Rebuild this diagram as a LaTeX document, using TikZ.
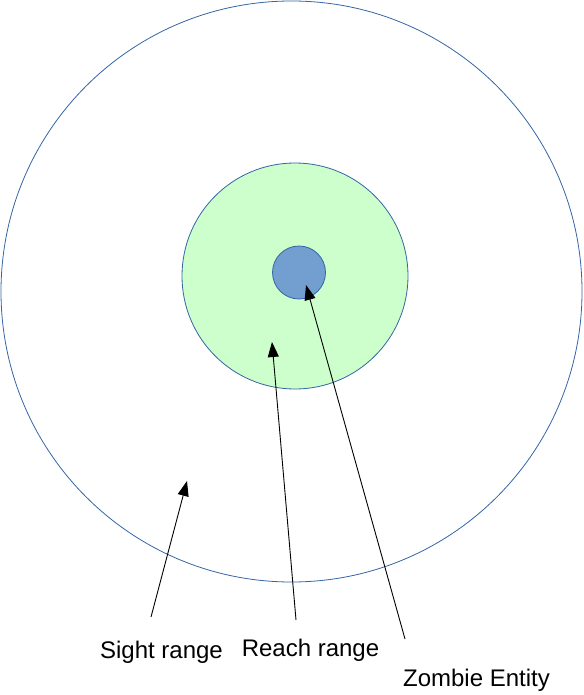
\documentclass[tikz,border=0pt]{standalone}
\usepackage{fontspec}
\setmainfont{Liberation Sans}
\usetikzlibrary{arrows.meta}
\definecolor{rimblue}{HTML}{3465A4}
\definecolor{reachgreen}{HTML}{CCFFCC}
\definecolor{zombieblue}{HTML}{729FCF}
\tikzset{
  >={Triangle[length=15pt, width=11pt]},
  ring/.style    = {draw=rimblue, circle, inner sep=0pt, line width=0.8pt},
  caption/.style = {font=\fontsize{24}{28}\selectfont, inner sep=0pt, anchor=base},
  pointer/.style = {->, black, line width=0.9pt},
}
\begin{document}
\begin{tikzpicture}[x=1pt, y=-1pt]
  \useasboundingbox (0,0) rectangle (583,695);

  % Ranges
  \node[ring, minimum size=581pt]                  (sight)  at (291.5,291.5) {};
  \node[ring, fill=reachgreen, minimum size=226pt] (reach)  at (295,276)     {};
  \node[ring, fill=zombieblue, minimum size=53pt]  (zombie) at (299,272.5)   {};

  % Labels
  \node[caption] (sightlbl)  at (161.5,658) {Sight range};
  \node[caption] (reachlbl)  at (310.5,656) {Reach range};
  \node[caption] (zombielbl) at (476.5,686) {Zombie Entity};

  % Pointer ends
  \coordinate (sightfrom)  at (151,617);
  \coordinate (sightto)    at (187,481);
  \coordinate (reachfrom)  at (296,620);
  \coordinate (reachto)    at (272,342);
  \coordinate (zombiefrom) at (405,639);
  \coordinate (zombieto)   at (306,285);

  \draw[pointer] (sightfrom)  -- (sightto);
  \draw[pointer] (reachfrom)  -- (reachto);
  \draw[pointer] (zombiefrom) -- (zombieto);
\end{tikzpicture}
\end{document}
